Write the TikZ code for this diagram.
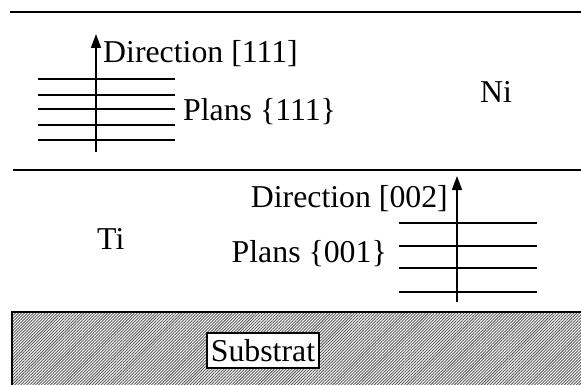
\documentclass[tikz,border=0pt]{standalone}
\usepackage{fontspec}
\setmainfont{Liberation Serif}
\usetikzlibrary{arrows.meta,patterns.meta}
\tikzset{
  txt/.style={inner sep=0pt, font=\fontsize{31.8}{37}\selectfont},
  layer/.style={line width=2pt},
  plan/.style={line width=1.6pt},
  dirarrow/.style={line width=1.6pt, -{Triangle[length=14pt,width=10pt]}},
}
\begin{document}
\begin{tikzpicture}[x=1pt,y=-1pt]
\useasboundingbox (0,0) rectangle (581,385);
% substrate
\fill[white] (12,312) rectangle (583,387);
\fill[pattern={Lines[angle=45,distance=2.1pt,line width=0.9pt]},pattern color=black!65] (12,312) rectangle (583,387);
\draw[layer] (12,387) -- (12,312) -- (583,312);
% layer boundaries
\draw[layer] (10,12) -- (583,12);
\draw[layer] (13,170) -- (583,170);
% Ni planes
\foreach \yy in {79,95,109,125,140} \draw[plan] (38,\yy) -- (175,\yy);
\coordinate (a1s) at (96,152);
\coordinate (a1e) at (96,34);
\draw[dirarrow] (a1s) -- (a1e);
% Ti planes
\foreach \yy in {223,246,268,292} \draw[plan] (399,\yy) -- (537,\yy);
\coordinate (a2s) at (457,302);
\coordinate (a2e) at (457,176);
\draw[dirarrow] (a2s) -- (a2e);
% texts
\node[txt, anchor=base west] (d111) at (103,63) {Direction [111]};
\node[txt, anchor=base west] (p111) at (183,121) {Plans \{111\}};
\node[txt, anchor=base west] (ni) at (480,103) {Ni};
\node[txt, anchor=base west] (ti) at (97,249) {Ti};
\node[txt, anchor=base east] (d002) at (448,207) {Direction [002]};
\node[txt, anchor=base east] (p001) at (387,262) {Plans \{001\}};
\node[txt, draw, line width=1.2pt, fill=white, minimum width=112pt, minimum height=35pt] (sub) at (263,350.5) {Substrat};
\end{tikzpicture}
\end{document}
